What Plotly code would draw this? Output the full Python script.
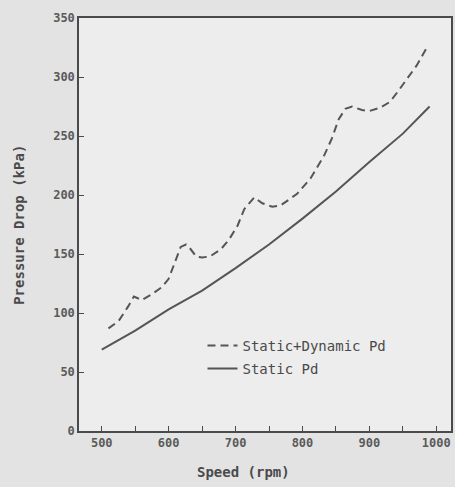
import plotly.graph_objects as go

speed_static = [500, 550, 600, 650, 700, 750, 800, 850, 900, 950, 990]
pd_static = [69, 85, 103, 119, 138, 158, 180, 203, 228, 252, 275]

speed_dyn = [510, 525, 540, 548, 560, 575, 590, 600, 610, 618, 626, 633, 641, 650,
             662, 678, 690, 703, 713, 728, 740, 755, 767, 780, 792, 812, 820, 832,
             844, 854, 864, 874, 889, 899, 916, 931, 943, 956, 971, 987]
pd_dyn = [87, 93, 106, 114, 111, 116, 122, 129, 144, 156, 158, 154, 148, 147,
          148, 154, 162, 174, 188, 198, 193, 190, 191, 196, 201, 214, 222, 233,
          248, 264, 273, 275, 272, 271, 274, 279, 288, 298, 310, 326]

x_ticks = [500, 600, 700, 800, 900, 1000]
y_ticks = [0, 50, 100, 150, 200, 250, 300, 350]

line_col = "#555555"
axis_col = "#4a4a4a"
font_fam = "DejaVu Sans Mono"
tick_font = dict(family=font_fam, size=12, color="#5a5a5a", weight="bold")

fig = go.Figure()
fig.add_trace(go.Scatter(x=speed_dyn, y=pd_dyn, mode="lines", name="Static+Dynamic Pd",
                         line=dict(color=line_col, width=2, dash="8px,5px"),
                         legendgroup="a"))
fig.add_trace(go.Scatter(x=speed_static, y=pd_static, mode="lines", name="Static Pd",
                         line=dict(color=line_col, width=2), legendgroup="b"))

fig.update_layout(
    width=455, height=487,
    margin=dict(l=79, r=2, t=18, b=56),
    paper_bgcolor="#e3e3e3",
    plot_bgcolor="#ededed",
    font=dict(family=font_fam, size=11, color="#555555"),
    showlegend=True,
    legend=dict(x=0.332, y=0.245, xanchor="left", yanchor="top",
                bgcolor="rgba(0,0,0,0)", traceorder="grouped", tracegroupgap=2,
                font=dict(family=font_fam, size=14, color="#4a4a4a")),
    xaxis=dict(range=[466, 1022], tickvals=x_ticks, ticks="inside", ticklen=5,
               tickcolor=axis_col, showgrid=False, zeroline=False,
               showline=True, linecolor=axis_col, linewidth=1.5, mirror=True,
               minor=dict(dtick=50, tick0=500, ticks="inside", ticklen=5, tickcolor=axis_col),
               tickfont=tick_font),
    yaxis=dict(range=[0, 350], tickvals=y_ticks, ticks="inside", ticklen=5,
               tickcolor=axis_col, showgrid=False, zeroline=False,
               showline=True, linecolor=axis_col, linewidth=1.5, mirror=True,
               tickfont=tick_font),
    annotations=[
        dict(text="Speed (rpm)", xref="paper", yref="paper", x=(244 - 79) / 374, y=-0.1,
             yanchor="middle", xanchor="center", showarrow=False,
             font=dict(family=font_fam, size=14, color="#4a4a4a", weight="bold")),
        dict(text="Pressure Drop (kPa)", xref="paper", yref="paper",
             x=-(79 - 18) / 374, y=0.5, textangle=-90, xanchor="center", yanchor="middle",
             showarrow=False, font=dict(family=font_fam, size=14, color="#4a4a4a", weight="bold")),
    ],
)

fig.write_html("out.html")
